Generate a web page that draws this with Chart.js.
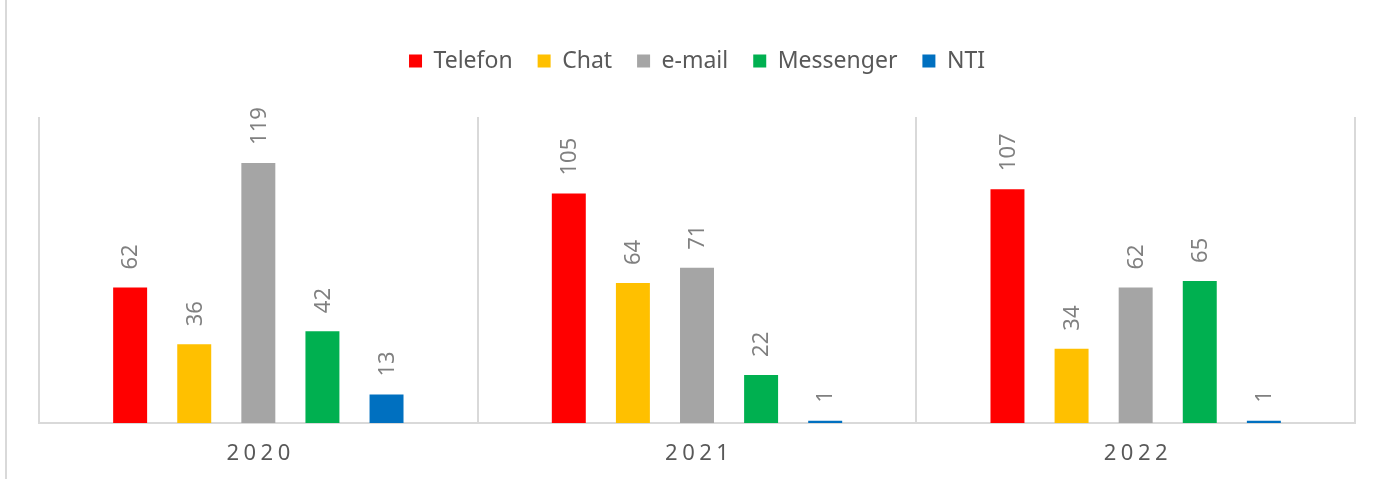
<!DOCTYPE html>
<html>
<head>
<meta charset="utf-8">
<script src="https://cdn.jsdelivr.net/npm/chart.js@4/dist/chart.umd.min.js"></script>
<style>
  html, body { margin: 0; padding: 0; background: #ffffff; }
  #wrap { position: relative; width: 1381px; height: 479px; }
</style>
</head>
<body>
<div id="wrap"><canvas id="c" width="1381" height="479"></canvas></div>
<script>
const categories = ['2020', '2021', '2022'];
const seriesNames = ['Telefon', 'Chat', 'e-mail', 'Messenger', 'NTI'];
const telefon = [62, 105, 107];
const chat = [36, 64, 34];
const email = [119, 71, 62];
const messenger = [42, 22, 65];
const nti = [13, 1, 1];
const seriesColors = ['#FF0000', '#FFC000', '#A5A5A5', '#00B050', '#0070C0'];
const yMax = 140;

const FONT = "'Noto Sans', 'Open Sans', sans-serif";

const valuesList = [telefon, chat, email, messenger, nti];
const datasets = seriesNames.map((name, i) => ({
  label: name,
  data: valuesList[i],
  backgroundColor: seriesColors[i],
  borderWidth: 0,
  categoryPercentage: 0.7306,
  barPercentage: 0.53
}));

const extrasPlugin = {
  id: 'extras',
  afterInit(chart) {
    const lg = chart.legend;
    if (lg) {
      const orig = lg.fit.bind(lg);
      lg.fit = function () { orig(); this.height += 34.5; };
    }
  },
  beforeDraw(chart) {
    const ctx = chart.ctx;
    ctx.save();
    ctx.fillStyle = '#d9d9d9';
    ctx.fillRect(5, 0, 2, chart.height);
    ctx.restore();
  },
  afterDatasetsDraw(chart) {
    const ctx = chart.ctx;
    ctx.save();
    ctx.font = "22px " + FONT;
    ctx.fillStyle = '#808080';
    ctx.textAlign = 'left';
    ctx.textBaseline = 'middle';
    chart.data.datasets.forEach((ds, di) => {
      const meta = chart.getDatasetMeta(di);
      meta.data.forEach((bar, i) => {
        ctx.save();
        ctx.translate(bar.x + 1, bar.y - 18);
        ctx.rotate(-Math.PI / 2);
        ctx.fillText(String(ds.data[i]), 0, 0);
        ctx.restore();
      });
    });
    ctx.restore();
  },
  afterDraw(chart) {
    const ctx = chart.ctx;
    const xs = chart.scales.x;
    ctx.save();
    ctx.font = "22px " + FONT;
    ctx.fillStyle = '#595959';
    ctx.textAlign = 'center';
    ctx.textBaseline = 'middle';
    const sp = 4.5;
    try { ctx.letterSpacing = sp + 'px'; } catch (e) {}
    categories.forEach((lab, i) => {
      const x = xs.getPixelForValue(i);
      ctx.fillText(lab, x + sp / 2, 454);
    });
    ctx.restore();
  }
};

new Chart(document.getElementById('c'), {
  type: 'bar',
  data: { labels: categories, datasets: datasets },
  options: {
    responsive: false,
    animation: false,
    layout: { padding: { left: 39, right: 26, top: 24.5, bottom: 56 } },
    plugins: {
      legend: {
        position: 'top',
        labels: {
          font: { family: FONT, size: 23 },
          color: '#595959',
          boxWidth: 13,
          boxHeight: 13,
          padding: 25
        }
      },
      title: { display: false },
      tooltip: { enabled: false }
    },
    scales: {
      x: {
        grid: { display: true, offset: true, color: '#d9d9d9', lineWidth: 2, drawTicks: false },
        border: { display: true, color: '#d9d9d9', width: 2 },
        ticks: { display: false }
      },
      y: {
        display: false,
        min: 0,
        max: yMax,
        grid: { display: false }
      }
    }
  },
  plugins: [extrasPlugin]
});
</script>
</body>
</html>
